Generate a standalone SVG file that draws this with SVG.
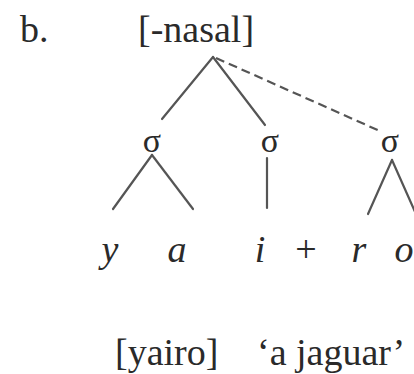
<svg xmlns="http://www.w3.org/2000/svg" width="414" height="374" viewBox="0 0 414 374">
<style>
text{font-family:"Liberation Serif","Times New Roman",serif;fill:#2a2a2a;font-size:38px}
.seg{font-style:italic;text-anchor:middle}
.sig{text-anchor:middle;font-size:34px}
.ln{stroke:#555;stroke-width:2.2;fill:none;stroke-linecap:round}
.dash{stroke-dasharray:9,5;stroke-linecap:butt}
</style>
<rect width="414" height="374" fill="#fff"/>
<g id="label-b"><text x="20" y="42">b.</text></g>
<g id="feature"><text x="138" y="42">[-nasal]</text></g>
<g id="sigma1"><text class="sig" x="152" y="152">σ</text></g>
<g id="sigma2"><text class="sig" x="270" y="152">σ</text></g>
<g id="sigma3"><text class="sig" x="390" y="152">σ</text></g>
<g id="seg-y"><text class="seg" x="110" y="262">y</text></g>
<g id="seg-a"><text class="seg" x="177" y="262">a</text></g>
<g id="seg-i"><text class="seg" x="260" y="262">i</text></g>
<g id="plus"><text x="306" y="262" text-anchor="middle">+</text></g>
<g id="seg-r"><text class="seg" x="359" y="262">r</text></g>
<g id="seg-o"><text class="seg" x="404" y="262">o</text></g>
<g id="gloss"><text x="115" y="365">[yairo]</text><text x="257" y="365">‘a jaguar’</text></g>
<g id="connectors">
<line class="ln" x1="213" y1="57" x2="162" y2="119"/>
<line class="ln" x1="213" y1="57" x2="265" y2="125"/>
<line class="ln dash" x1="216" y1="58" x2="382" y2="132"/>
<line class="ln" x1="152" y1="155" x2="113" y2="209"/>
<line class="ln" x1="152" y1="155" x2="193" y2="209"/>
<line class="ln" x1="267" y1="158" x2="267" y2="208"/>
<line class="ln" x1="392" y1="160" x2="368" y2="214"/>
<line class="ln" x1="392" y1="160" x2="416" y2="214"/>
</g>
</svg>
